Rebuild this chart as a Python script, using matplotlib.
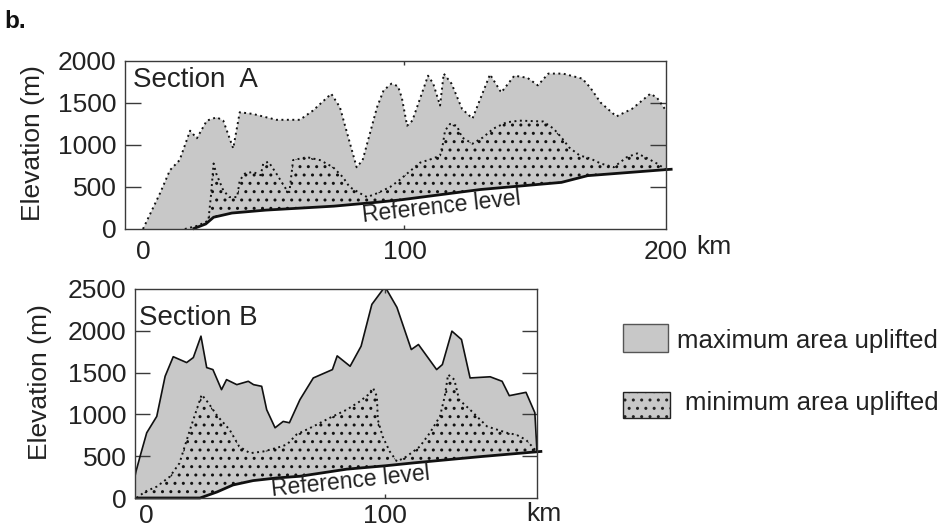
import numpy as np
import matplotlib
matplotlib.use("Agg")
import matplotlib.pyplot as plt
from matplotlib.patches import Rectangle

plt.rcParams['font.family'] = ['Liberation Sans', 'DejaVu Sans']
plt.rcParams['hatch.linewidth'] = 1.0

# ---------------- Section A data (km, m) ----------------
a_ref_km = [0, 19, 24, 27, 34, 47, 73, 90, 98, 129, 160, 170, 200, 202.5]
a_ref_m = [0, 0, 60, 140, 190, 225, 272, 320, 345, 470, 555, 635, 707, 712]

a_max_km = [0, 6.5, 10.3, 14, 18, 20.6, 24.4, 28.2, 30.7, 34.5, 37, 42, 51, 60, 65,
            72, 75.3, 81.7, 84, 89.5, 92, 95, 97.5, 99, 101, 103, 109, 111, 113.6,
            115, 118, 122, 126, 129, 132.7, 137, 142, 147, 151, 155, 160.6, 168,
            171, 175, 181, 187, 194, 196.5, 200]
a_max_m = [0, 425, 700, 820, 1170, 1080, 1290, 1330, 1290, 960, 1390, 1370, 1300, 1300, 1410,
           1610, 1450, 735, 820, 1450, 1650, 1730, 1700, 1560, 1230, 1290, 1825, 1730, 1470,
           1850, 1730, 1430, 1315, 1550, 1840, 1625, 1825, 1800, 1710, 1850, 1850, 1790,
           1685, 1505, 1340, 1430, 1610, 1565, 1410]

a_min_km = [16, 21, 25, 26, 27, 28, 30.7, 33, 36, 37, 39, 42, 45, 46, 48, 51, 55, 56,
            57.4, 62.7, 67.7, 72.7, 76.5, 79, 83, 85.7, 89.5, 94.5, 98, 101, 106, 111,
            113.6, 114.7, 115.5, 117.4, 120, 122, 126, 130, 134, 139, 144, 153, 157,
            160, 163, 167, 171, 175, 180, 185, 189, 193, 196.5, 200]
a_min_m = [0, 40, 100, 400, 780, 660, 460, 380, 380, 580, 660, 680, 640, 780, 800, 660, 460, 440,
           820, 855, 820, 735, 615, 500, 425, 380, 425, 500, 580, 660, 790, 840,
           875, 1015, 1170, 1250, 1230, 1090, 1015, 1090, 1195, 1270, 1290, 1280, 1195,
           1090, 970, 875, 840, 780, 735, 855, 900, 840, 780, 707]

# ---------------- Section B data (km, m) ----------------
b_ref_km = [-4.6, 22.6, 29.7, 36.4, 44.8, 54.8, 64.4, 84, 100, 112, 140, 163.6, 165.8]
b_ref_m = [0, 0, 72, 156, 208, 240, 260, 345, 385, 420, 495, 553, 558]

b_max_km = [-4.6, -4.2, -2.5, 0.3, 4.5, 8, 11.4, 17, 19.8, 23, 25.4, 28, 31.6, 33.7, 38,
            42.8, 45, 48.4, 50.5, 54, 57.4, 60, 64.4, 70, 78, 80, 85.4, 90, 94.5, 100,
            105, 111, 114, 121.6, 124, 128, 132, 135.6, 144, 149, 152, 159, 162.7, 163.6]
b_max_m = [260, 316, 496, 780, 976, 1456, 1690, 1620, 1680, 1936, 1560, 1536, 1296, 1416, 1356,
           1396, 1356, 1336, 1056, 840, 916, 900, 1176, 1436, 1536, 1700, 1576, 1816, 2316, 2528,
           2280, 1776, 1836, 1536, 1596, 1996, 1896, 1436, 1450, 1396, 1224, 1264, 1020, 553]

b_min_km = [-3.9, -0.4, 4.5, 10, 14, 18.4, 21.2, 23.3, 26, 30, 35, 39, 43.5, 49, 54.8, 59,
            63, 70, 77, 84, 89.5, 93, 95, 96.6, 97, 99, 102, 105, 109, 114.6, 118.8, 123,
            125, 126.4, 129, 131, 135.6, 142.7, 151, 155, 159, 163.6]
b_min_m = [0, 76, 136, 256, 416, 816, 1056, 1236, 1140, 976, 816, 616, 536, 556, 600, 640,
           760, 856, 960, 1056, 1156, 1236, 1316, 1216, 936, 736, 556, 436, 496, 616, 780, 976,
           1216, 1476, 1416, 1176, 1056, 856, 780, 756, 696, 553]

a_yticks = [0, 500, 1000, 1500, 2000]
b_yticks = [0, 500, 1000, 1500, 2000, 2500]
a_xticks = [0, 100, 200]
b_xticks = [0, 100]

GRAY = '#c8c8c8'
FS = 19
W, H = 942, 528

fig = plt.figure(figsize=(W / 100, H / 100), dpi=100)


def fx(px):
    return px / W


def fy(py):
    return 1 - py / H


def region(ax, xs, ys, ref_x, ref_y, **kw):
    px = np.concatenate([np.asarray(xs, float), np.asarray(ref_x, float)[::-1]])
    py = np.concatenate([np.asarray(ys, float), np.asarray(ref_y, float)[::-1]])
    return ax.fill(px, py, **kw)


def style_axes(ax, xlim, ylim, yticks, xticks, ylen, xpad):
    ax.set_xlim(*xlim)
    ax.set_ylim(*ylim)
    for s in ax.spines.values():
        s.set_color('#3a3a3a')
        s.set_linewidth(1.0)
        s.set_zorder(6)
    ax.set_yticks(yticks)
    ax.set_yticklabels([str(v) for v in yticks])
    ax.set_yticks(yticks[1:-1], minor=True)
    ax.yaxis.remove_overlapping_locs = False
    ax.tick_params(axis='y', which='major', direction='in', left=True, right=False,
                   length=0, pad=6, labelsize=FS, colors='#222222')
    ax.tick_params(axis='y', which='minor', direction='in', left=True, right=True,
                   length=ylen, width=1.0, color='#3a3a3a')
    ax.set_xticks(xticks)
    ax.set_xticklabels([str(v) for v in xticks])
    ax.set_xticks([100], minor=True)
    ax.xaxis.remove_overlapping_locs = False
    ax.tick_params(axis='x', which='major', length=0, pad=xpad, labelsize=FS,
                   colors='#222222')
    ax.tick_params(axis='x', which='minor', direction='in', top=True, bottom=True,
                   length=3, width=1.0, color='#3a3a3a')


# ---------------- Section A ----------------
axA = fig.add_axes([fx(125), fy(229), (666 - 125) / W, (229 - 61) / H])
region(axA, a_max_km, a_max_m, a_ref_km, a_ref_m, facecolor=GRAY, edgecolor='none',
       zorder=1)
region(axA, a_min_km, a_min_m, a_ref_km, a_ref_m, facecolor=GRAY, edgecolor='#111111',
       linewidth=0, hatch='..', zorder=2)
axA.plot(a_max_km, a_max_m, color='#111111', lw=1.4, linestyle=(0, (1, 1.8)), zorder=3)
axA.plot(a_min_km, a_min_m, color='#111111', lw=1.4, linestyle=(0, (1, 1.8)), zorder=3)
axA.plot(a_ref_km[1:], a_ref_m[1:], color='#111111', lw=2.0, zorder=4, clip_on=False,
         solid_capstyle='butt')
style_axes(axA, (-6.88, 200), (0, 2000), a_yticks, a_xticks, 11.5, 8)
axA.text(114, 270, 'Reference level', rotation=6.3, rotation_mode='anchor',
         ha='center', va='center', fontsize=16.5, color='#222222', zorder=5)

# ---------------- Section B ----------------
axB = fig.add_axes([fx(135), fy(498), (537 - 135) / W, (498 - 289) / H])
region(axB, b_max_km, b_max_m, b_ref_km, b_ref_m, facecolor=GRAY, edgecolor='none',
       zorder=1)
region(axB, b_min_km, b_min_m, b_ref_km, b_ref_m, facecolor=GRAY, edgecolor='#111111',
       linewidth=0, hatch='..', zorder=2)
axB.plot(b_max_km, b_max_m, color='#111111', lw=1.2, zorder=3)
axB.plot(b_min_km, b_min_m, color='#111111', lw=1.4, linestyle=(0, (1, 1.8)), zorder=3)
axB.plot(b_ref_km, b_ref_m, color='#111111', lw=2.0, zorder=4, clip_on=False,
         solid_capstyle='butt')
style_axes(axB, (-4.6, 163.6), (0, 2500), b_yticks, b_xticks, 11, 4.5)
axB.text(85.5, 194, 'Reference level', rotation=5.9, rotation_mode='anchor',
         ha='center', va='center', fontsize=16.5, color='#222222', zorder=5)

# ---------------- labels ----------------
fig.text(fx(4), fy(28), 'b.', fontsize=17.5, fontweight='bold', va='baseline',
         color='#111111')
fig.text(fx(133), fy(87), 'Section  A', fontsize=20, va='baseline', color='#222222')
fig.text(fx(139), fy(325), 'Section B', fontsize=20, va='baseline', color='#222222')
fig.text(fx(33), fy(143), 'Elevation (m)', rotation=90, ha='center', va='center',
         fontsize=FS, color='#222222')
fig.text(fx(40), fy(382), 'Elevation (m)', rotation=90, ha='center', va='center',
         fontsize=FS, color='#222222')
fig.text(fx(714), fy(247), 'km', ha='center', va='center', fontsize=FS, color='#222222')
fig.text(fx(544), fy(514), 'km', ha='center', va='center', fontsize=FS, color='#222222')

# ---------------- legend ----------------
fig.patches.append(Rectangle((fx(623), fy(352)), (668 - 623) / W, (352 - 324) / H,
                             transform=fig.transFigure, facecolor=GRAY,
                             edgecolor='#555555', linewidth=1.0))
fig.patches.append(Rectangle((fx(623), fy(418)), (670 - 623) / W, (418 - 392) / H,
                             transform=fig.transFigure, facecolor=GRAY,
                             edgecolor='#222222', linewidth=1.0, hatch='..'))
fig.text(fx(677), fy(348), 'maximum area uplifted', fontsize=18.5, va='baseline',
         color='#222222')
fig.text(fx(685), fy(410), 'minimum area uplifted', fontsize=18.5, va='baseline',
         color='#222222')

fig.savefig('out.png', dpi=100)
